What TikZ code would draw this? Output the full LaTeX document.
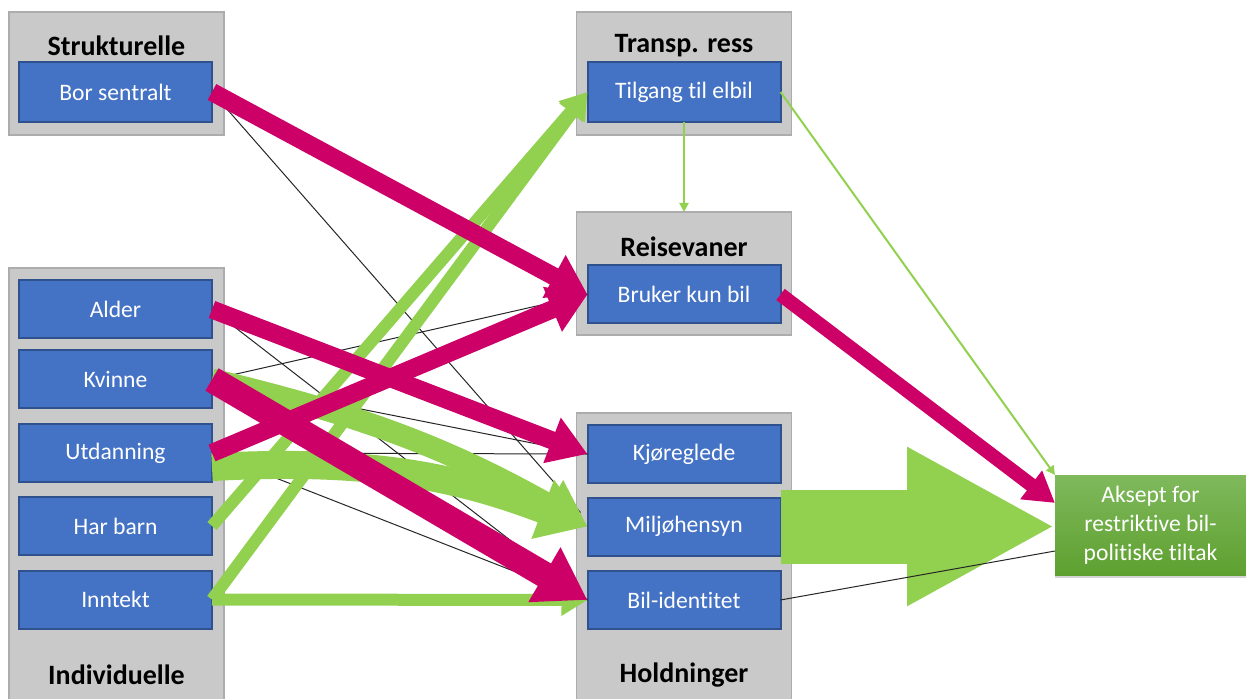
\documentclass[tikz,border=0pt]{standalone}
\usepackage{fontspec}
\setmainfont{Carlito}[Ligatures={NoCommon,NoDiscretionary}]
\usetikzlibrary{arrows.meta,calc,shadows}
\definecolor{mag}{RGB}{204,0,102}
\definecolor{grn}{RGB}{146,208,80}
\definecolor{bluefill}{RGB}{68,114,196}
\definecolor{bluedark}{RGB}{47,82,143}
\definecolor{grpfill}{RGB}{201,201,201}
\definecolor{grpline}{RGB}{172,172,172}
\definecolor{aktop}{RGB}{127,185,92}
\definecolor{akbot}{RGB}{94,160,48}
\newcommand\mylabfont{\fontsize{11.8}{14.5}\selectfont}
\newcommand\mytitlefont{\fontsize{14}{17}\selectfont\bfseries}
\begin{document}
\begin{tikzpicture}[x=0.5pt,y=-0.5pt,
  grp/.style={draw=grpline, fill=grpfill, line width=0.6pt, inner sep=0pt, outer sep=0pt, minimum width=107.5pt},
  var/.style={draw=bluedark, fill=bluefill, line width=1pt, inner sep=0pt, outer sep=0pt, minimum width=96.5pt, minimum height=29pt, text=white, font=\mylabfont},
  ttl/.style={font=\mytitlefont, text=black, inner sep=0pt},
  blk/.style={draw=black!85, line width=0.5pt},
  gthin/.style={draw=grn, line width=1pt, -{Triangle[width=4.5pt,length=4.5pt]}},
  gmid/.style={draw=grn, line width=6pt, -{Triangle[width=15pt,length=13pt]}},
  gcurveA/.style={draw=grn, line width=11pt, -{Triangle[width=27pt,length=22pt]}},
  gcurveB/.style={draw=grn, line width=14pt, -{Triangle[width=30pt,length=24pt]}},
  magA/.style={draw=mag, line width=9pt, -{Triangle[width=23pt,length=19pt]}},
  magB/.style={draw=mag, line width=13pt, -{Triangle[width=30pt,length=25pt]}},
  magC/.style={draw=mag, line width=7pt, -{Triangle[width=17pt,length=15pt]}},
  blockarrow/.style={draw=grn, line width=37pt, -{Triangle[width=74pt,length=74pt]}}
]
\useasboundingbox (0,0) rectangle (1246,699);
% group boxes
\node[grp, minimum height=61.5pt] (strukt) at (116.5,73.5) {};
\node[grp, minimum height=218.5pt] (indiv) at (116.5,486.5) {};
\node[grp, minimum height=61.5pt] (transp) at (684,73.5) {};
\node[grp, minimum height=61.5pt] (reise) at (684,273.5) {};
\node[grp, minimum height=146pt] (hold) at (684,559) {};
\node[ttl] (struktT) at (116.5,46) {Strukturelle};
\node[ttl] (indivT) at (116.5,675) {Individuelle};
\node[ttl] (transpT) at (684,46) {Transp. ress};
\node[ttl] (reiseT) at (684,247) {Reisevaner};
\node[ttl] (holdT) at (684,675) {Holdninger};
% variables
\node[var, minimum height=30pt] (bor) at (115.5,92) {Bor sentralt};
\node[var] (alder) at (115.5,309.5) {Alder};
\node[var] (kvinne) at (115.5,379.5) {Kvinne};
\node[var] (utd) at (115.5,453) {Utdanning};
\node[var] (harbarn) at (115.5,526) {Har barn};
\node[var] (inntekt) at (115.5,599.5) {Inntekt};
\node[var, minimum height=30pt] (tilg) at (684,92) {Tilgang til elbil};
\node[var] (bruker) at (684,294.5) {Bruker kun bil};
\node[var] (kjor) at (684,454) {Kjøreglede};
\node[var] (milj) at (684,526.5) {Miljøhensyn};
\node[var] (bil) at (684,600) {Bil-identitet};
\node[top color=aktop, bottom color=akbot, draw=none, text=white, font=\mylabfont, align=center,
  minimum width=95.5pt, minimum height=50pt, inner sep=0pt, outer sep=0pt,
  drop shadow={opacity=0.35, shadow xshift=0pt, shadow yshift=-1.5pt}] (aksept) at (1150.5,525)
  {Aksept for\\restriktive bil-\\politiske tiltak};
% thin black lines
\draw[blk] (bor.east) -- ($(milj.west)+(-7,-14)$);
\draw[blk] (alder.east) -- (bil.west);
\draw[blk] (kvinne.east) -- (bruker.west);
\draw[blk] (kvinne.east) -- (kjor.west);
\draw[blk] (utd.east) -- (kjor.west);
\draw[blk] (utd.east) -- (bil.west);
% green arrows
\draw[gcurveA] (kvinne.east) to[bend left=8] (milj.west);
\draw[gcurveB] ($(utd.east)+(0,14)$) to[bend left=12] (milj.west);
\draw[gmid] (inntekt.east) -- (bil.west);
\draw[gmid] (harbarn.east) -- (tilg.west);
\draw[gmid] (inntekt.east) -- (tilg.west);
% magenta arrows
\draw[magA] (bor.east) -- (bruker.west);
\draw[magA] (utd.east) -- (bruker.west);
\draw[magA] (alder.east) -- (kjor.west);
\draw[magB] (kvinne.east) -- (bil.west);
\draw[magC] (bruker.east) -- ($(aksept.west)+(0,-22)$);
% right part
\draw[blockarrow] (milj.east) -- (milj.east -| aksept.west);
\draw[blk] (bil.east) -- ($(aksept.west)+(0,26)$);
\draw[gthin] (tilg.south) -- (reise.north);
\draw[gthin] (tilg.east) -- (aksept.north west);
\end{tikzpicture}
\end{document}
